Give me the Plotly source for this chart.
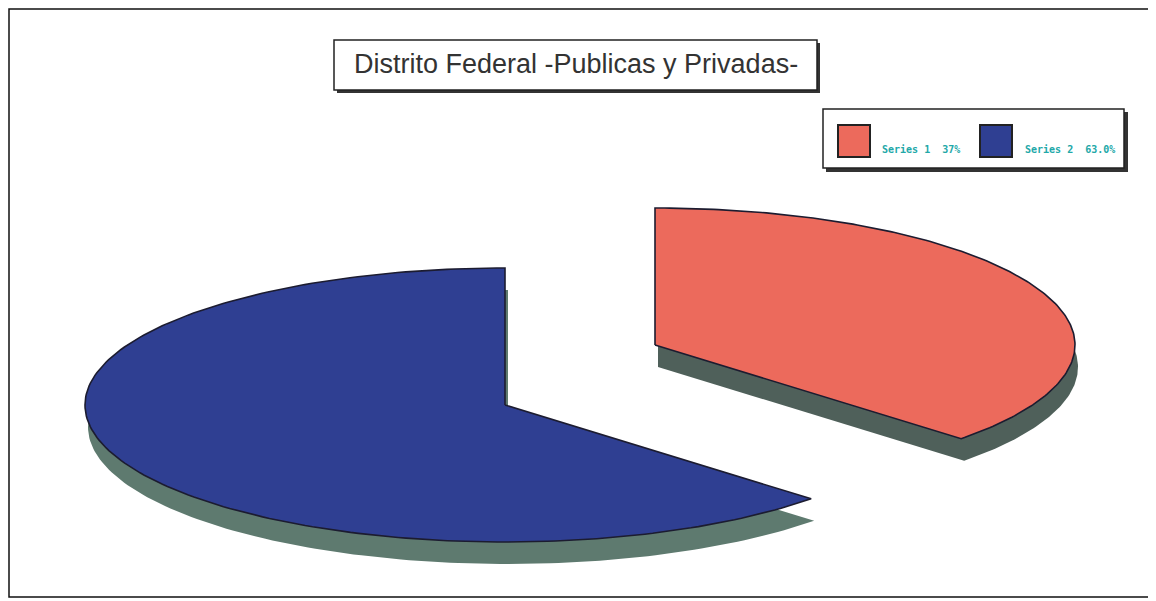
import numpy as np
import plotly.graph_objects as go

# ---- data ----
labels = ["Series 1", "Series 2"]
values = [37, 63]
legend_text = ["Series 1  37%", "Series 2  63.0%"]
title_text = "Distrito Federal -Publicas y Privadas-"

# ---- style / layout ----
W, H = 1156, 601
OFF = 8  # page body margin in the browser
face_colors = ["#ec6a5c", "#2f3f92"]
shadow_colors = ["#4f605a", "#5e7a6f"]
edge_color = "#1c1c30"
# exploded slice centres (pixel coords) and ellipse radii
centers = [(655, 345), (505, 405)]
A, B = 420, 137
SDX, SDY = 3, 22

total = float(sum(values))
fr = [v / total for v in values]
# Series 1 goes clockwise from 12 o'clock, Series 2 anticlockwise from 12 o'clock
spans = [(90 - 360 * fr[0], 90), (90, 90 + 360 * fr[1])]


def wedge(cx, cy, t0, t1, n=200):
    t = np.radians(np.linspace(t0, t1, n))
    xs = np.concatenate([[cx], cx + A * np.cos(t), [cx]])
    ys = np.concatenate([[cy], cy - B * np.sin(t), [cy]])
    return xs, ys


fig = go.Figure()

# shadows / sides
for i in range(len(values)):
    cx, cy = centers[i]
    xs, ys = wedge(cx + SDX, cy + SDY, *spans[i])
    fig.add_trace(go.Scatter(x=xs, y=ys, mode="lines", fill="toself",
                             fillcolor=shadow_colors[i], line=dict(width=0),
                             hoverinfo="skip", showlegend=False))
# top faces
for i in range(len(values)):
    cx, cy = centers[i]
    xs, ys = wedge(cx, cy, *spans[i])
    fig.add_trace(go.Scatter(x=xs, y=ys, mode="lines", fill="toself",
                             fillcolor=face_colors[i],
                             line=dict(color=edge_color, width=1.6),
                             name=labels[i], hoverinfo="name", showlegend=False))

shapes = []
# outer frame
shapes.append(dict(type="rect", xref="x", yref="y", x0=9, y0=9, x1=1152, y1=597,
                   line=dict(color="#111", width=1.5)))
# title box shadow + box
shapes.append(dict(type="rect", xref="x", yref="y", x0=337, y0=43, x1=820, y1=93,
                   fillcolor="#333", line=dict(width=0), layer="below"))
shapes.append(dict(type="rect", xref="x", yref="y", x0=334, y0=40, x1=817, y1=90,
                   fillcolor="white", line=dict(color="#222", width=1.5), layer="below"))
# legend box shadow + box
shapes.append(dict(type="rect", xref="x", yref="y", x0=826, y0=112, x1=1128, y1=172,
                   fillcolor="#333", line=dict(width=0), layer="below"))
shapes.append(dict(type="rect", xref="x", yref="y", x0=823, y0=109, x1=1124, y1=168,
                   fillcolor="white", line=dict(color="#222", width=1.5), layer="below"))

annotations = []
sq_x = [838, 980]
txt_x = [880, 1023]
for i in range(len(values)):
    shapes.append(dict(type="rect", xref="x", yref="y", x0=sq_x[i], y0=125,
                       x1=sq_x[i] + 32, y1=157, fillcolor=face_colors[i],
                       line=dict(color="#222", width=2)))
    annotations.append(dict(x=txt_x[i], y=149, xref="x", yref="y", text="<b>" + legend_text[i] + "</b>",
                            showarrow=False, xanchor="left", yanchor="middle",
                            font=dict(family="DejaVu Sans Mono", size=10, color="#22a8a8")))

annotations.append(dict(x=575.5, y=64, xref="x", yref="y", text=title_text, showarrow=False,
                        xanchor="center", yanchor="middle",
                        font=dict(family="Liberation Sans", size=27, color="#333")))

fig.update_layout(
    width=W - OFF - 1, height=H - OFF - 1, autosize=False,
    margin=dict(l=0, r=0, t=0, b=0, pad=0),
    paper_bgcolor="white", plot_bgcolor="white",
    xaxis=dict(range=[OFF, W - 1], visible=False, fixedrange=True),
    yaxis=dict(range=[H - 1, OFF], visible=False, fixedrange=True),
    shapes=shapes, annotations=annotations, showlegend=False,
)

fig.write_html("out.html")
